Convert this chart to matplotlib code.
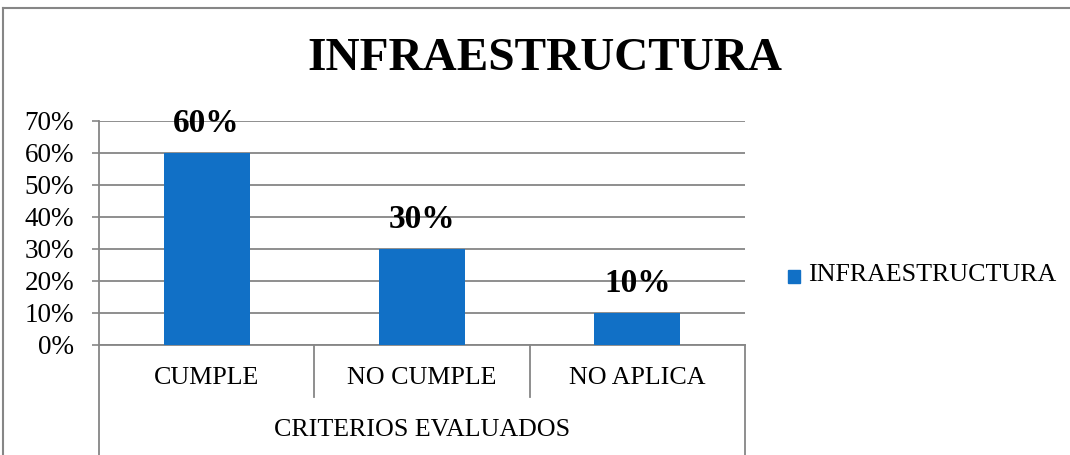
import matplotlib
matplotlib.use("Agg")
import matplotlib.pyplot as plt
from matplotlib.patches import Rectangle
from matplotlib.lines import Line2D
import matplotlib.transforms as mtransforms

categories = ["CUMPLE", "NO CUMPLE", "NO APLICA"]
values = [60, 30, 10]
y_ticks = [0, 10, 20, 30, 40, 50, 60, 70]
y_tick_labels = [f"{v}%" for v in y_ticks]
series_name = "INFRAESTRUCTURA"
chart_title = "INFRAESTRUCTURA"
axis_group_label = "CRITERIOS EVALUADOS"

BAR_COLOR = "#1170C6"
GRID_COLOR = "#868686"
SERIF = ["Liberation Serif", "DejaVu Serif"]

W, H = 1070, 455
fig = plt.figure(figsize=(W / 100, H / 100), dpi=100)
fig.patch.set_facecolor("white")

# outer chart-area frame (top and left edges visible)
fig.add_artist(Line2D([3 / W, 3 / W], [0, 1 - 8 / H], transform=fig.transFigure,
                      color=GRID_COLOR, lw=1.5))
fig.add_artist(Line2D([3 / W, 1], [1 - 8 / H, 1 - 8 / H], transform=fig.transFigure,
                      color=GRID_COLOR, lw=1.5))

left, right = 99 / W, 745 / W
bottom, top = (H - 345) / H, (H - 121) / H
ax = fig.add_axes([left, bottom, right - left, top - bottom])

x = list(range(len(categories)))
bars = ax.bar(x, values, width=0.4, color=BAR_COLOR, zorder=3)

ax.set_xlim(-0.5, len(categories) - 0.5)
ax.set_ylim(0, 70)
ax.set_yticks(y_ticks)
ax.set_yticklabels(y_tick_labels, fontfamily=SERIF, fontsize=19.5)
ax.tick_params(axis="y", length=5, width=1.2, color=GRID_COLOR, pad=13)
ax.set_xticks([])

ax.yaxis.grid(True, color=GRID_COLOR, lw=1.3, zorder=0)
ax.set_axisbelow(True)
for side in ("top", "right"):
    ax.spines[side].set_visible(False)
ax.spines["left"].set_color(GRID_COLOR)
ax.spines["left"].set_linewidth(1.3)
ax.spines["bottom"].set_color(GRID_COLOR)
ax.spines["bottom"].set_linewidth(1.3)

# value labels above bars
for xi, v in zip(x, values):
    ax.annotate(f"{v}%", (xi, v), xytext=(0, 10), textcoords="offset points",
                ha="center", va="bottom", fontsize=24, fontweight="bold",
                fontfamily=SERIF)

# multi-level category axis below the plot
trans = mtransforms.blended_transform_factory(ax.transData, ax.transAxes)
n = len(categories)
for b in range(n + 1):
    xb = b - 0.5
    y_end = -0.49 if b in (0, n) else -0.232
    ax.add_line(Line2D([xb, xb], [0, y_end], transform=trans, color=GRID_COLOR,
                       lw=1.3, clip_on=False))
for xi, c in zip(x, categories):
    ax.text(xi, -0.147, c, transform=trans, ha="center", va="center",
            fontsize=18.7, fontfamily=SERIF)
ax.text((n - 1) / 2, -0.379, axis_group_label, transform=trans, ha="center",
        va="center", fontsize=18.7, fontfamily=SERIF)

# title
fig.text(545 / W, 1 - 59 / H, chart_title, ha="center", va="center",
         fontsize=34, fontweight="bold", fontfamily=SERIF)

# legend
fig.add_artist(Rectangle((788 / W, 1 - 283 / H), 12 / W, 13 / H,
                         transform=fig.transFigure, color=BAR_COLOR))
fig.text(808 / W, 1 - 275 / H, series_name, ha="left", va="center",
         fontsize=18.7, fontfamily=SERIF)

fig.savefig("out.png", dpi=100)
